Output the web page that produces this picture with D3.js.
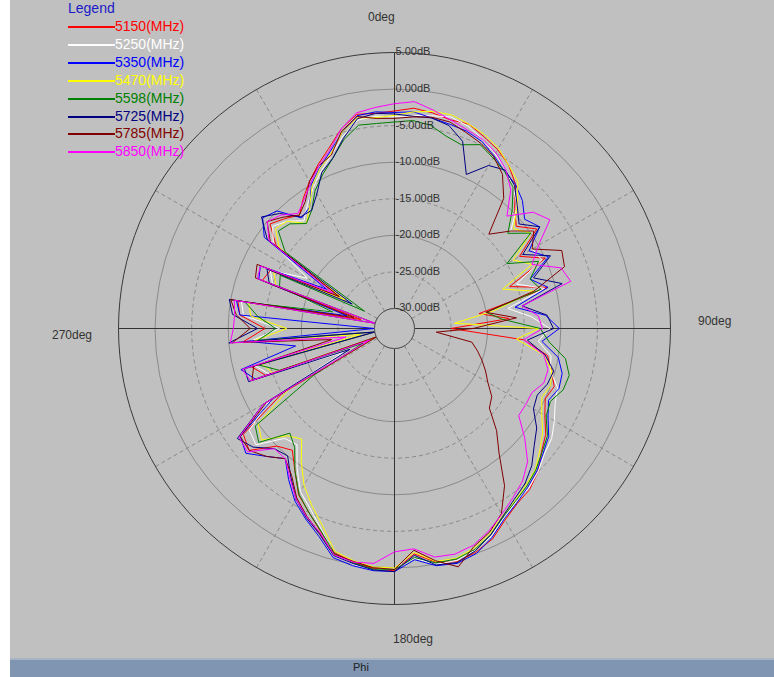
<!DOCTYPE html>
<html><head><meta charset="utf-8">
<script src="https://cdn.jsdelivr.net/npm/d3@7"></script>
<style>html,body{margin:0;padding:0;background:#fff;}svg{display:block;}</style>
</head><body>
<script>
// ---- data ----
const angles = d3.range(0, 360, 5); // degrees, clockwise from 0deg (top)
const seriesNames = ["5150(MHz)","5250(MHz)","5350(MHz)","5470(MHz)","5598(MHz)","5725(MHz)","5785(MHz)","5850(MHz)"];
const seriesColors = ["#ff0000","#ffffff","#0000ff","#ffff00","#008000","#000080","#800000","#ff00ff"];
const ringTicks = [5,0,-5,-10,-15,-20,-25,-30];
const ringLabels = ["5.00dB","0.00dB","-5.00dB","-10.00dB","-15.00dB","-20.00dB","-25.00dB","-30.00dB"];
const angleLabels = ["0deg","90deg","180deg","270deg"];
const axisTitle = "Phi";
const legendTitle = "Legend";

const s5150 = [-3.0,-2.5,-2.8,-3.2,-3.0,-3.8,-4.5,-5.5,-7.0,-9.5,-11,-9,-13,-10,-16,-11,-21,-17,-25,-15,-11.5,-10.5,-9.5,-10,-9,-7.5,-6.5,-5,-4,-3.5,-2.5,-1,-0.2,0.3,-0.3,-1.8,0.4,0.2,-0.3,-1,-3.2,-5,-6.5,-9,-11,-10,-6.8,-7.5,-15,-31,-14,-12.5,-30,-12,-15,-11.5,-11,-28,-13.5,-14,-24,-13,-10.5,-11.5,-12.5,-11,-9.5,-8,-6.5,-4.5,-3,-3.2];
const s5250 = [-3.8,-3.5,-3.2,-2.8,-3.3,-4.2,-5.2,-6.2,-7.5,-9,-12,-9.5,-11,-10.5,-15,-11.5,-17,-14,-11.5,-13,-11,-10.7,-9,-8.5,-7.5,-6.5,-6,-5,-4.2,-3.8,-2.8,-1.4,-0.5,0.1,0,-1.2,0.1,0.4,0,-0.8,-3.5,-5.5,-7,-9.5,-12,-11.5,-8,-8.5,-13,-25,-14.5,-13,-31,-13,-17,-12,-11.5,-24,-15,-14,-19,-12.5,-11,-12,-13.5,-12,-10.5,-9,-7.5,-5.5,-3.8,-3.6];
const s5350 = [-3.2,-3.0,-3.5,-3.8,-4.0,-4.5,-5.5,-6.5,-7,-8,-9.5,-8.5,-11.5,-9.5,-13,-11,-16,-12,-10.2,-12.5,-10,-9,-8.8,-9.5,-8.5,-7,-6.2,-5.2,-4.4,-3.6,-2.7,-1.2,0,0.5,0.2,-1,0.5,0.5,0.2,-0.3,-2.5,-4,-5.5,-7.5,-9.5,-8,-6.2,-7,-13.5,-31,-12.5,-11,-19,-12.5,-32,-11.5,-10.8,-26,-13,-12.5,-22,-11,-9.2,-10,-13,-12.5,-10,-8.5,-7,-5,-3.2,-3];
const s5470 = [-3.6,-3.0,-2.6,-2.5,-3.0,-3.5,-4.3,-5.5,-6.5,-9,-11.5,-10,-14,-12,-17,-13,-19,-24.5,-13,-16,-12,-10.5,-10,-10.5,-9.5,-8,-6.8,-5.5,-4.8,-4,-3.2,-1.8,-0.8,-0.2,-0.4,-2,0,0,-0.5,-1.2,-4,-6,-8,-10.5,-13,-12,-9,-10,-16,-32,-15,-14,-28,-13.5,-18,-13,-12.5,-30,-15.5,-14.5,-25,-13.5,-11.5,-12,-14,-12.5,-10.2,-8.6,-7.3,-5,-3.5,-3.8];
const s5598 = [-4.5,-4.2,-4.5,-5.5,-6,-5,-5.8,-6.5,-7.5,-10,-12.5,-10,-15,-11,-13,-12,-20,-18,-12.8,-11.5,-9,-8,-8.2,-9.2,-8.8,-7.2,-6.4,-5.4,-4.6,-3.9,-3,-1.6,-0.6,-0.1,-0.2,-1.3,0.2,0.3,-0.2,-0.9,-3.3,-5,-6.6,-9,-11.5,-12.5,-8.5,-9.5,-20,-28,-16,-13.5,-31,-14,-16.5,-14,-12,-24,-16,-15.5,-28,-14.5,-12,-12.5,-14,-13,-11,-9.5,-8,-6,-4.5,-4.6];
const s5725 = [-3.4,-3.6,-3.5,-4,-5.5,-9.5,-7,-6.3,-7.2,-9,-10.5,-8.5,-12.5,-9.2,-12.5,-9,-15,-11.8,-11,-14.5,-11.8,-10.2,-10.5,-11.2,-10.8,-9,-7.8,-6.2,-5,-4.2,-3.1,-1.6,-0.4,0.4,0.1,-1.6,0.5,0.4,-0.1,-0.6,-2.8,-4.2,-5.8,-8,-10,-9.5,-7.5,-6.5,-12,-26,-11.5,-11.5,-31,-10,-14,-10.5,-9.8,-31,-14.5,-13.5,-26,-11.5,-9.0,-10.5,-12.8,-13,-11.5,-9.2,-8,-5.8,-3.6,-3.2];
const s5785 = [-4.0,-3.7,-3.4,-3.5,-4.2,-4.8,-5.6,-7,-9.5,-14.5,-12,-9.5,-11,-7.5,-8,-13,-20,-16,-22,-27,-22,-21,-20,-19,-18,-16.5,-15.8,-13,-10.5,-6.5,-3.5,-2,-1,1.0,-0.5,-2.3,0.2,0.1,-0.4,-0.8,-2.9,-4.4,-6,-8.2,-9.5,-8,-6.8,-7,-12.5,-31,-12,-12.8,-24,-10.5,-13,-11,-10,-27,-12.5,-12,-24,-12,-10,-11.2,-12.5,-11.5,-9.5,-8.2,-7.5,-4.8,-3.3,-3.9];
const s5850 = [-2.0,-1.6,-2.4,-3.2,-3.8,-4.2,-5.0,-6.2,-8,-11,-8,-6.8,-10,-12,-8.5,-7.8,-15,-13,-12.5,-15,-12,-11,-11,-12,-12,-12,-9.5,-7,-5.5,-4.5,-3.4,-2.2,-1.2,-0.8,-1,-2.5,-2.2,-0.5,-0.3,-0.7,-3,-4.3,-5.8,-7.8,-9.5,-9.5,-6.5,-6.8,-12,-29,-11.8,-11.2,-26,-10.2,-10.7,-10.8,-10.5,-31,-12.8,-12.5,-23,-11.8,-10,-10.8,-12.2,-11.2,-9.8,-8.2,-6.8,-4.5,-2.8,-2.4];
const seriesValues = [s5150,s5250,s5350,s5470,s5598,s5725,s5785,s5850];

// ---- drawing ----
const W = 774, H = 677, cx = 394, cy = 328;
const svg = d3.select("body").append("svg").attr("width", W).attr("height", H)
  .style("font-family", "'Liberation Sans', Arial, sans-serif");

svg.append("rect").attr("x",0).attr("y",0).attr("width",W).attr("height",H).attr("fill","#ffffff");
svg.append("rect").attr("x",10).attr("y",0).attr("width",W-10).attr("height",659).attr("fill","#c0c0c0");
svg.append("rect").attr("x",10).attr("y",658).attr("width",W-10).attr("height",2).attr("fill","#a7b4c4");
svg.append("rect").attr("x",10).attr("y",660).attr("width",W-10).attr("height",17).attr("fill","#7f95b1");
svg.append("text").attr("x",353).attr("y",668).attr("dominant-baseline","middle")
  .attr("font-size",11).attr("fill","#222").text(axisTitle);

const r = d3.scaleLinear().domain([-30, 5]).range([20, 276]).clamp(true);
const g = svg.append("g").attr("transform", `translate(${cx + 0.5},${cy + 0.5})`);

// spokes
const spokeAngles = [30,60,120,150,210,240,300,330];
g.selectAll(".spoke").data(spokeAngles).enter().append("line")
  .attr("x1", d => r(-30) * Math.sin(d*Math.PI/180))
  .attr("y1", d => -r(-30) * Math.cos(d*Math.PI/180))
  .attr("x2", d => r(5) * Math.sin(d*Math.PI/180))
  .attr("y2", d => -r(5) * Math.cos(d*Math.PI/180))
  .attr("stroke","#8a8a8a").attr("stroke-width",1).attr("stroke-dasharray","4,3");

// rings
g.selectAll(".ring").data(ringTicks).enter().append("circle")
  .attr("r", d => r(d)).attr("fill", "none")
  .attr("stroke", d => (d === 5 ? "#3a3a3a" : d === -30 ? "#555" : "#8a8a8a"))
  .attr("stroke-width", 1)
  .attr("stroke-dasharray", d => (d === -5 || d === -15 || d === -25) ? "4,3" : null);

// axes
g.append("line").attr("x1",0).attr("y1",-r(5)).attr("x2",0).attr("y2",r(5)).attr("stroke","#333");
g.append("line").attr("x1",-r(5)).attr("y1",0).attr("x2",r(5)).attr("y2",0).attr("stroke","#333");

// series
const line = d3.lineRadial().angle((d,i) => angles[i]*Math.PI/180).radius(d => r(d)).curve(d3.curveLinearClosed);
g.selectAll(".series").data(seriesValues).enter().append("path")
  .attr("d", d => line(d)).attr("fill","none")
  .attr("stroke", (d,i) => seriesColors[i]).attr("stroke-width",1);

// center circle on top
g.append("circle").attr("r", r(-30)).attr("fill","#c0c0c0").attr("stroke","#555");

// ring labels
g.selectAll(".rl").data(ringTicks).enter().append("text")
  .attr("x", 1).attr("y", d => -r(d)).attr("dominant-baseline","middle")
  .attr("font-size", 11).attr("fill","#333")
  .text((d,i) => ringLabels[i]);

// angle labels
const alPos = [[368,18],[698,322],[393,640],[52,336]];
svg.selectAll(".al").data(angleLabels).enter().append("text")
  .attr("x",(d,i)=>alPos[i][0]).attr("y",(d,i)=>alPos[i][1]).attr("dominant-baseline","middle")
  .attr("font-size",12).attr("fill","#333").text(d=>d);

// legend
svg.append("text").attr("x",68).attr("y",9).attr("dominant-baseline","middle")
  .attr("font-size",14).attr("fill","#1a1ac8").text(legendTitle);
const legendItems = seriesNames.map((n,i) => ({name:n, color:seriesColors[i], i:i}));
const lg = svg.selectAll(".lg").data(legendItems).enter().append("g")
  .attr("transform",d=>`translate(68,${Math.round(27 + d.i*17.9)})`);
lg.append("line").attr("x1",0).attr("x2",47).attr("y1",0).attr("y2",0)
  .attr("stroke",d=>d.color).attr("stroke-width",2);
lg.append("text").attr("x",47).attr("y",0).attr("dominant-baseline","middle")
  .attr("font-size",14).attr("fill",d=>d.color).text(d=>d.name);
</script>
</body></html>
